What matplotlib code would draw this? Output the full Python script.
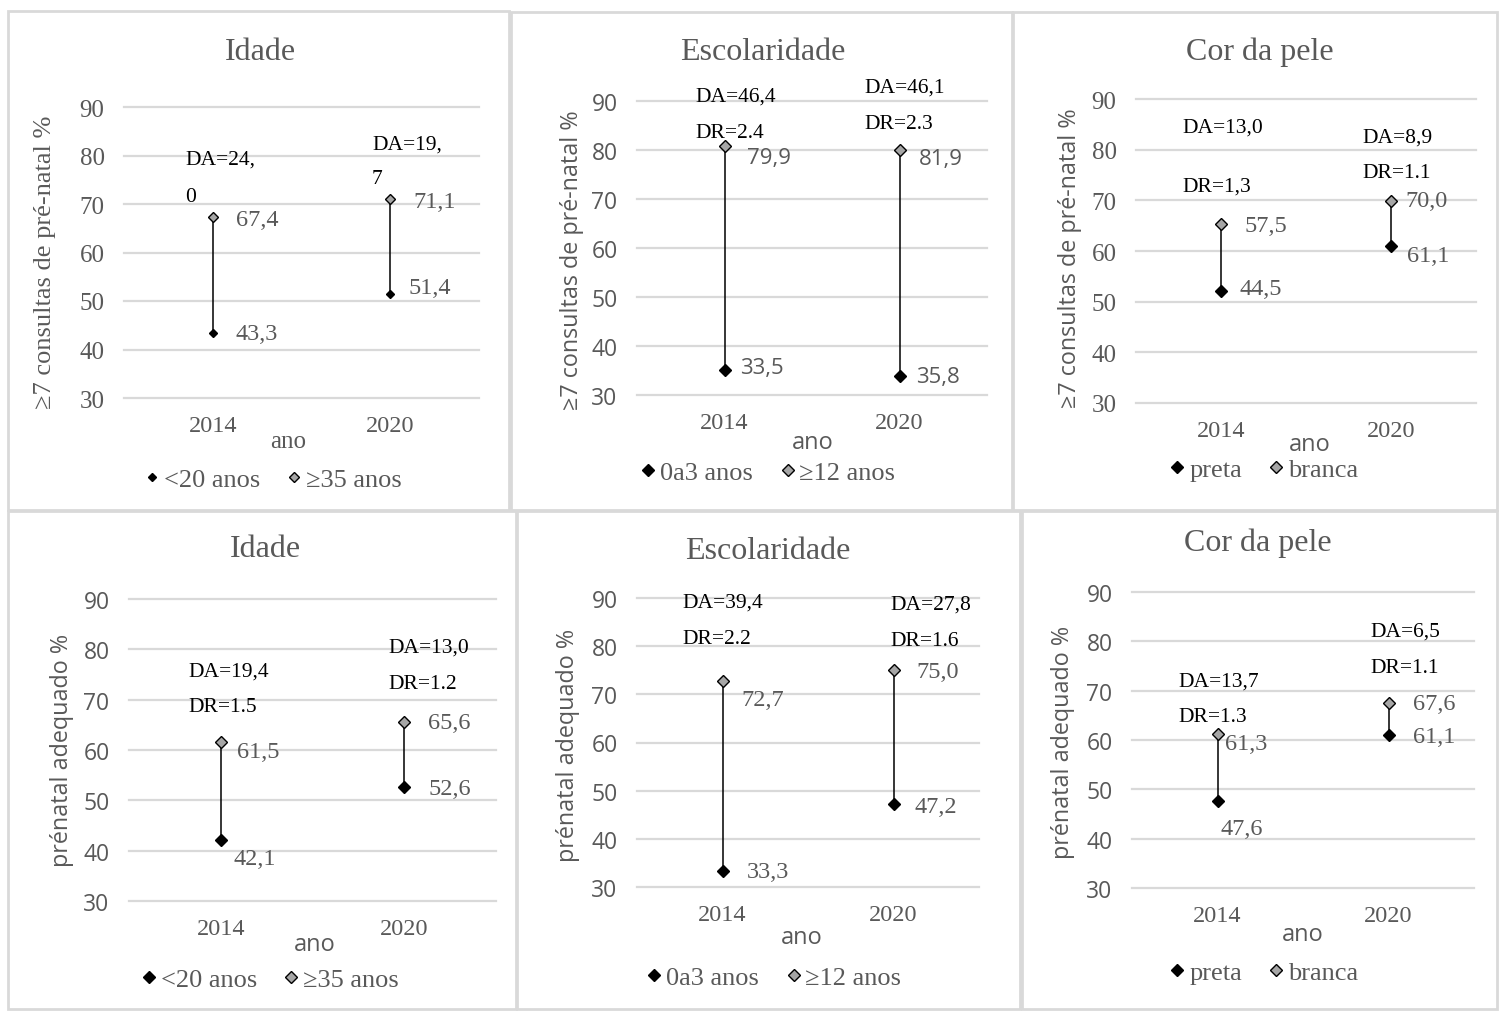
import matplotlib.pyplot as plt
from matplotlib.patches import Rectangle
from matplotlib.lines import Line2D

W, H = 1499, 1012
SERIF = 'Liberation Serif'
SANS = 'Open Sans'
CINZA = '#595959'
GRADE = '#d9d9d9'

# ---- dados ----
anos = ['2014', '2020']
marcas_y = [30, 40, 50, 60, 70, 80, 90]
titulos = ['Idade', 'Escolaridade', 'Cor da pele', 'Idade', 'Escolaridade', 'Cor da pele']
rotulo_y_consultas = '≥7 consultas de pré-natal %'
rotulo_y_adequado = 'prénatal adequado %'
grupo_baixo = ['<20 anos', '0a3 anos', 'preta', '<20 anos', '0a3 anos', 'preta']
grupo_alto = ['≥35 anos', '≥12 anos', 'branca', '≥35 anos', '≥12 anos', 'branca']

# posição dos marcadores (2014, 2020)
consultas_baixo = [[43.3, 51.4], [35.2, 33.8], [52.2, 61.0]]
consultas_alto = [[67.4, 71.1], [80.8, 80.0], [65.3, 69.9]]
adequado_baixo = [[42.1, 52.6], [33.3, 47.2], [47.6, 61.1]]
adequado_alto = [[61.5, 65.6], [72.7, 75.0], [61.3, 67.6]]

# rótulos de dados como impressos no gráfico
rot_consultas_baixo = [['43,3', '51,4'], ['33,5', '35,8'], ['44,5', '61,1']]
rot_consultas_alto = [['67,4', '71,1'], ['79,9', '81,9'], ['57,5', '70,0']]
rot_adequado_baixo = [['42,1', '52,6'], ['33,3', '47,2'], ['47,6', '61,1']]
rot_adequado_alto = [['61,5', '65,6'], ['72,7', '75,0'], ['61,3', '67,6']]

# diferença absoluta / relativa (texto de cada ano)
notas = [
    [('DA=24,', '0'), ('DA=19,', '7')],
    [('DA=46,4', 'DR=2.4'), ('DA=46,1', 'DR=2.3')],
    [('DA=13,0', 'DR=1,3'), ('DA=8,9', 'DR=1.1')],
    [('DA=19,4', 'DR=1.5'), ('DA=13,0', 'DR=1.2')],
    [('DA=39,4', 'DR=2.2'), ('DA=27,8', 'DR=1.6')],
    [('DA=13,7', 'DR=1.3'), ('DA=6,5', 'DR=1.1')],
]

baixo = consultas_baixo + adequado_baixo
alto = consultas_alto + adequado_alto
rot_baixo = rot_consultas_baixo + rot_adequado_baixo
rot_alto = rot_consultas_alto + rot_adequado_alto
rotulos_y = [rotulo_y_consultas] * 3 + [rotulo_y_adequado] * 3

# ---- layout (pixels) ----
caixas = [(8, 12, 509, 511), (511, 13, 1012, 511), (1013, 13, 1497, 511),
          (8, 512, 516, 1010), (517, 512, 1020, 1010), (1022, 512, 1497, 1010)]
areas = [(124, 108, 479, 399), (637, 102, 987, 396), (1136, 100, 1476, 404),
         (129, 600, 496, 902), (637, 599, 979, 888), (1132, 593, 1474, 889)]
pos_titulo = [(260, 52), (763, 53), (1260, 52), (265, 550), (768, 552), (1258, 543)]
pos_rot_y = [(45, 262), (572, 260), (1070, 258), (62, 750), (568, 745), (1063, 742)]
pos_ano = [(288, 442), (813, 443), (1310, 445), (315, 945), (802, 938), (1303, 935)]
pos_legenda = [(273, 480), (768, 473), (1264, 470), (270, 980), (774, 978), (1264, 973)]
pos_notas = [
    [(185, 160, 197), (372, 145, 180)],
    [(695, 97, 133), (864, 88, 125)],
    [(1182, 128, 187), (1362, 138, 173)],
    [(188, 672, 708), (388, 648, 685)],
    [(682, 603, 639), (890, 605, 642)],
    [(1178, 682, 718), (1370, 632, 669)],
]
# deslocamento dos rótulos (dx para a direita, dy para baixo), em pixels
desloc_baixo = [[(23, 0), (18, -7)], [(16, -2), (17, 0)], [(18, -2), (16, 10)],
                [(13, 18), (24, 1)], [(24, 0), (21, 2)], [(3, 27), (24, 2)]]
desloc_alto = [[(23, 3), (23, 3)], [(23, 11), (19, 8)], [(23, 1), (14, 0)],
               [(16, 9), (24, 1)], [(19, 18), (23, 1)], [(7, 10), (24, 1)]]
fonte_ytick = [SERIF, SANS, SERIF, SANS, SANS, SANS]
fonte_roty = [SERIF, SANS, SANS, SANS, SANS, SANS]
fonte_ano = [SERIF, SANS, SANS, SANS, SANS, SANS]
fonte_dados = [SERIF, SANS, SERIF, SERIF, SERIF, SERIF]
tam_marca = [(4.5, 5.5), (6, 6), (6, 6), (6, 6), (6, 6), (6, 6)]


def fx(x):
    return x / W


def fy(y):
    return 1 - y / H


def tam(fonte, serif, sans):
    return serif if fonte == SERIF else sans


fig = plt.figure(figsize=(W / 100, H / 100), dpi=100)
fig.patch.set_facecolor('white')

for i in range(6):
    bx0, by0, bx1, by1 = caixas[i]
    fig.add_artist(Rectangle((fx(bx0), fy(by1)), (bx1 - bx0) / W, (by1 - by0) / H,
                             transform=fig.transFigure, fill=False, ec=GRADE, lw=2))

    x0, y90, x1, y30 = areas[i]
    ax = fig.add_axes([fx(x0), fy(y30), (x1 - x0) / W, (y30 - y90) / H])
    ax.set_xlim(-0.5, 1.5)
    ax.set_ylim(30, 90)
    ax.patch.set_alpha(0)
    for s in ax.spines.values():
        s.set_visible(False)
    for v in marcas_y:
        ax.axhline(v, color=GRADE, lw=1.6, clip_on=False, zorder=0)

    ax.set_yticks(marcas_y)
    ax.set_yticklabels([str(v) for v in marcas_y], fontfamily=fonte_ytick[i],
                       fontsize=tam(fonte_ytick[i], 18, 16.5), color=CINZA)
    ax.set_xticks(range(len(anos)))
    ax.set_xticklabels(anos, fontfamily=SERIF, fontsize=17.5, color=CINZA)
    ax.tick_params(axis='y', length=0, pad=14)
    ax.tick_params(axis='x', length=0, pad=12)

    xs = list(range(len(anos)))
    ax.vlines(xs, baixo[i], alto[i], color='black', lw=1.1, zorder=2)
    mb, ma = tam_marca[i]
    ax.plot(xs, baixo[i], 'D', ls='none', ms=mb, color='black', zorder=3)
    ax.plot(xs, alto[i], 'D', ls='none', ms=ma, mfc='#a6a6a6', mec='black', mew=1, zorder=3)

    fs_dados = tam(fonte_dados[i], 17.5, 16)
    for j in xs:
        for v, rot, (dx, dy) in ((baixo[i][j], rot_baixo[i][j], desloc_baixo[i][j]),
                                 (alto[i][j], rot_alto[i][j], desloc_alto[i][j])):
            ax.annotate(rot, (j, v), xytext=(dx, -dy), textcoords='offset pixels',
                        ha='left', va='center', fontfamily=fonte_dados[i],
                        fontsize=fs_dados, color=CINZA)
    for j in xs:
        nx, ny1, ny2 = pos_notas[i][j]
        l1, l2 = notas[i][j]
        for ny, txt in ((ny1, l1), (ny2, l2)):
            fig.text(fx(nx), fy(ny), txt, ha='left', va='center', fontfamily=SERIF,
                     fontsize=15.5, color='black')

    tx, ty = pos_titulo[i]
    fig.text(fx(tx), fy(ty), titulos[i], ha='center', va='center', fontfamily=SERIF,
             fontsize=23, color=CINZA)
    rx, ry = pos_rot_y[i]
    fig.text(fx(rx), fy(ry), rotulos_y[i], ha='center', va='center', rotation=90,
             fontfamily=fonte_roty[i], fontsize=tam(fonte_roty[i], 19, 16.8),
             color=CINZA)
    ax_x, ax_y = pos_ano[i]
    fig.text(fx(ax_x), fy(ax_y), 'ano', ha='center', va='center', fontfamily=fonte_ano[i],
             fontsize=tam(fonte_ano[i], 18, 17), color=CINZA)

    alcas = [Line2D([], [], marker='D', ls='none', ms=mb, color='black'),
             Line2D([], [], marker='D', ls='none', ms=ma, mfc='#a6a6a6', mec='black', mew=1)]
    lx, ly = pos_legenda[i]
    ax.legend(alcas, [grupo_baixo[i], grupo_alto[i]], loc='center',
              bbox_to_anchor=(fx(lx), fy(ly)), bbox_transform=fig.transFigure,
              ncol=2, frameon=False, handlelength=0.6, handletextpad=0.15,
              columnspacing=1.0, labelcolor=CINZA,
              prop={'family': SERIF, 'size': 19})

fig.savefig('out.png', dpi=100)
